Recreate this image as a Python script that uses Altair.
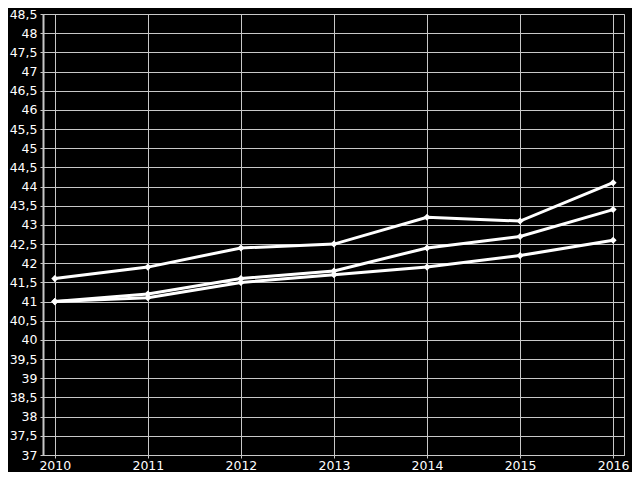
import altair as alt
import pandas as pd

years = [2010, 2011, 2012, 2013, 2014, 2015, 2016]
series_a = [41.6, 41.9, 42.4, 42.5, 43.2, 43.1, 44.1]
series_b = [41.0, 41.2, 41.6, 41.8, 42.4, 42.7, 43.4]
series_c = [41.0, 41.1, 41.5, 41.7, 41.9, 42.2, 42.6]
y_ticks = [37 + 0.5 * i for i in range(24)]

rows = []
for name, vals in (("A", series_a), ("B", series_b), ("C", series_c)):
    for yr, v in zip(years, vals):
        rows.append({"year": yr, "value": v, "series": name})
df = pd.DataFrame(rows)

x = alt.X("year:Q",
          scale=alt.Scale(domain=[2009.873, 2016.117], nice=False, zero=False),
          axis=alt.Axis(values=years, format="d", title=None, labelColor="white",
                        tickColor="#c8c8c8", tickSize=3, domainColor="#c8c8c8",
                        gridColor="#c8c8c8", labelFont="DejaVu Sans", labelFontSize=12.5,
                        labelPadding=1))
y = alt.Y("value:Q",
          scale=alt.Scale(domain=[37, 48.5], nice=False, zero=False),
          axis=alt.Axis(values=y_ticks, title=None, labelColor="white",
                        labelExpr="replace(format(datum.value, '~g'), '.', ',')",
                        tickColor="#c8c8c8", tickSize=3, domainColor="#c8c8c8",
                        domainWidth=2, gridColor="#c8c8c8", labelFont="DejaVu Sans",
                        labelFontSize=12.5, labelPadding=3))

lines = alt.Chart(df).mark_line(color="white", strokeWidth=3).encode(
    x=x, y=y, detail="series:N")
points = alt.Chart(df).mark_point(shape="diamond", filled=True, color="white",
                                  size=50, opacity=1).encode(x=x, y=y, detail="series:N")

chart = (lines + points).properties(
    width=581, height=441,
    background="black",
    autosize=alt.AutoSizeParams(type="none"),
    padding={"left": 35, "top": 6, "right": 8, "bottom": 17},
).configure_view(stroke="#c8c8c8", strokeWidth=1).configure_axis(gridWidth=1)

chart.save("out.html", embed_options={"renderer": "svg", "actions": False})
